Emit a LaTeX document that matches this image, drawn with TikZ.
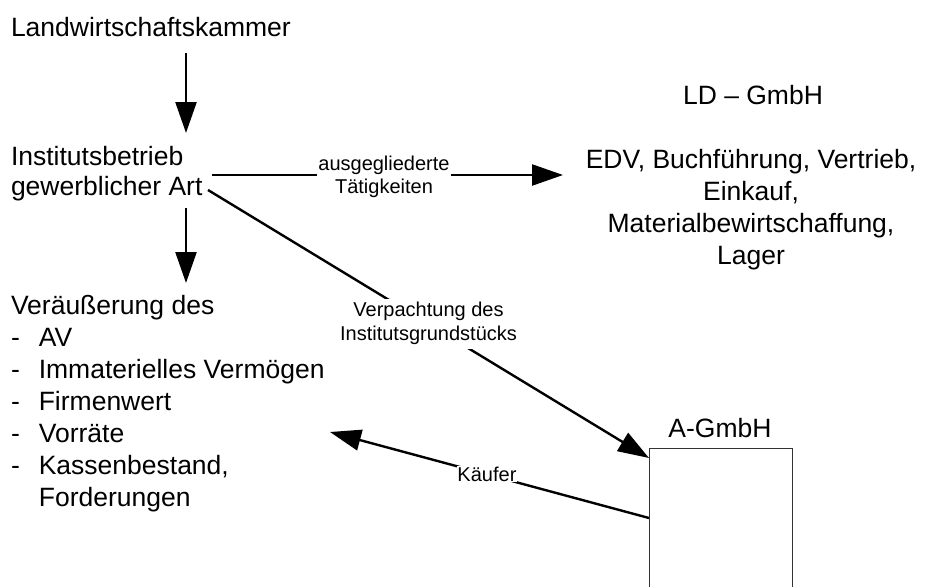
\documentclass[tikz,border=0pt]{standalone}
\usepackage{fontspec}
\setmainfont{Liberation Sans}
\usetikzlibrary{arrows.meta}
\begin{document}
\begin{tikzpicture}[x=1pt,y=1pt,
  txt/.style={inner sep=0pt, outer sep=0pt, font=\fontsize{26.5}{32}\selectfont},
  lbl/.style={fill=white, inner sep=1pt, outer sep=0pt, font=\fontsize{20}{24}\selectfont},
  arr/.style={line width=2.4pt, -{Triangle[length=31pt,width=21pt]}},
  firmbox/.style={draw=black!80, line width=1pt, inner sep=0pt, outer sep=0pt,
                  minimum width=143pt, minimum height=170pt}]
\useasboundingbox (0,0) rectangle (925,-586);

% text blocks
\node[txt, anchor=base west] (lwk) at (11,-37) {Landwirtschaftskammer};
\node[txt, font=\fontsize{26.5}{30}\selectfont, anchor=base west] (inst) at (11,-165)
  {\begin{tabular}[t]{@{}l@{}}Institutsbetrieb\\gewerblicher Art\end{tabular}};
\node[txt, anchor=base west] (ver) at (11,-314)
  {\begin{tabular}[t]{@{}l@{\hspace{19pt}}l@{}}
   \multicolumn{2}{@{}l@{}}{Veräußerung des}\\
   -&AV\\
   -&Immaterielles Vermögen\\
   -&Firmenwert\\
   -&Vorräte\\
   -&Kassenbestand,\\
    &Forderungen
   \end{tabular}};
\node[txt, anchor=base] (ld) at (753,-104) {LD – GmbH};
\node[txt, anchor=base] (edv) at (751,-168)
  {\begin{tabular}[t]{@{}c@{}}EDV, Buchführung, Vertrieb,\\Einkauf,\\Materialbewirtschaffung,\\Lager\end{tabular}};
\node[txt, anchor=base] (atitle) at (720,-437) {A-GmbH};
\node[firmbox, anchor=north west] (agmbh) at (649,-448) {};

% connectors
\draw[arr] ([shift={(175,-16)}]lwk.base west) -- ([shift={(175,32)}]inst.base west);
\draw[arr] ([shift={(175,-43)}]inst.base west) -- ([shift={(175,31)}]ver.base west);
\draw[arr] ([shift={(201,-10)}]inst.base west) --
  node[lbl, pos=0.49, yshift=-2pt, font=\fontsize{20}{23}\selectfont]
    {\begin{tabular}{@{}c@{}}ausgegliederte\\Tätigkeiten\end{tabular}}
  ([shift={(-188,-7)}]edv.base);
\draw[arr] ([shift={(197,-25)}]inst.base west) --
  node[lbl, pos=0.5]
    {\begin{tabular}{@{}c@{}}Verpachtung des\\Institutsgrundstücks\end{tabular}}
  ([yshift=-10]agmbh.north west);
\draw[arr] ([yshift=-70]agmbh.north west) --
  node[lbl, pos=0.508, inner sep=0.5pt] {Käufer}
  ([shift={(319,-118)}]ver.base west);
\end{tikzpicture}
\end{document}
